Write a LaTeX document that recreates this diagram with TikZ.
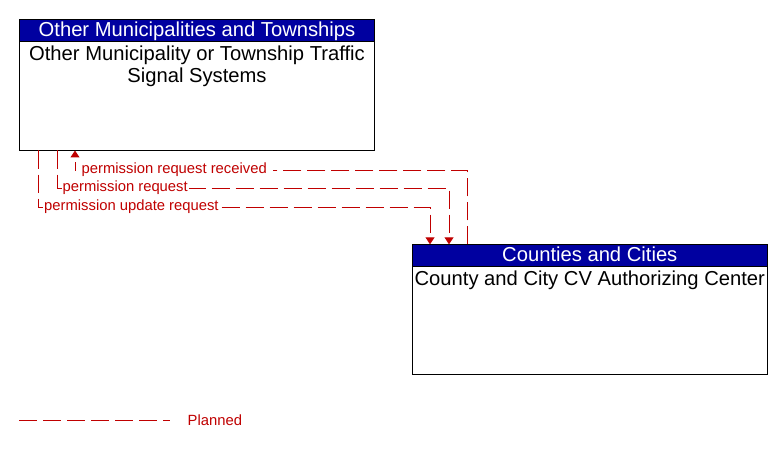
\documentclass[tikz,border=0pt]{standalone}
\usepackage{fontspec}
\setmainfont{Liberation Sans}
\usetikzlibrary{positioning,arrows.meta}
\definecolor{hdrblue}{RGB}{0,0,160}
\definecolor{planred}{RGB}{192,0,0}

\begin{document}
\begin{tikzpicture}[x=1pt,y=-1pt,
    font=\fontsize{20.2}{22}\selectfont,
    ent/.style={draw,line width=1pt,minimum width=355,minimum height=131,inner sep=0,outer sep=0,anchor=north west},
    hdr/.style={draw,line width=1pt,fill=hdrblue,text=white,minimum width=355,minimum height=22,
      inner sep=0,outer sep=0,anchor=north west,text height=15.5,text depth=3},
    sub/.style={anchor=north,align=center,inner sep=4},
    flow/.style={planred,line width=1pt,dash pattern=on 18pt off 6pt},
    lbl/.style={font=\fontsize{14.8}{16}\selectfont,text=planred,fill=white,inner sep=1,anchor=west},
    >={Triangle[width=9pt,length=7pt]}]
      \useasboundingbox (0,0) rectangle (783,449);
      % entities
      \node[ent] (omt) at (19.5,19.5) {};
      \node[hdr] (omth) at (omt.north west) {Other Municipalities and Townships};
      \node[sub] (omtb) at (omth.south) {Other Municipality or Township Traffic\\Signal Systems};
      \node[ent,minimum height=130] (ccc) at (412.3,244.3) {};
      \node[hdr] (ccch) at (ccc.north west) {Counties and Cities};
      \node[sub] (cccb) at (ccch.south) {County and City CV Authorizing Center};
      % flows
      \draw[flow,->] (ccc.north -| 467,0) |- (75,170) -- (omt.south -| 75,0);
      \draw[flow,->] (omt.south -| 57,0) |- (449,188) -- (ccc.north -| 449,0);
      \draw[flow,->] (omt.south -| 38,0) |- (430,207) -- (ccc.north -| 430,0);
      \node[lbl,inner xsep=6] (prrl) at (75.5,170) {permission request received};
      \node[lbl] (prl) at (61.5,188) {permission request};
      \node[lbl] (purl) at (43,207) {permission update request};
      % legend
      \coordinate (lga) at (19,420);
      \coordinate (lgb) at (170,420);
      \draw[flow] (lga) -- (lgb);
      \node[lbl,inner sep=0,right=17.5 of lgb] (lgt) {Planned};
\end{tikzpicture}
\end{document}
